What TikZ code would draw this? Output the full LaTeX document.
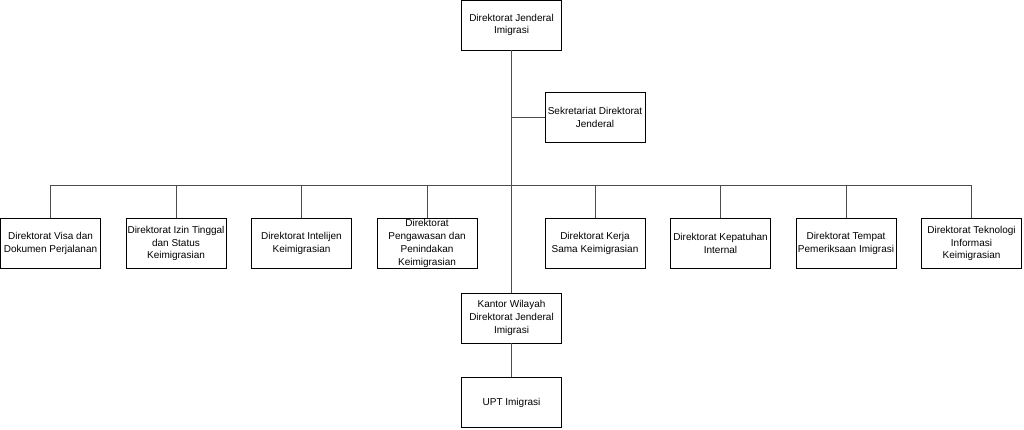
\documentclass[tikz,border=0pt]{standalone}
\usepackage{fontspec}
\setmainfont{Liberation Sans}
\begin{document}
\begin{tikzpicture}[x=1pt,y=-1pt,
  orgbox/.style={draw=black,line width=0.9pt,fill=white,minimum width=100pt,minimum height=50pt,
    inner sep=1pt,align=center,font=\fontsize{10}{12.8}\selectfont},
  link/.style={draw=black!70,line width=0.9pt}]
\useasboundingbox (0,0) rectangle (1024,429);
\node[orgbox] (top) at (511.5,25) {Direktorat Jenderal\\Imigrasi};
\node[orgbox] (sek) at (595,117.5) {Sekretariat Direktorat\\Jenderal};
\node[orgbox] (d1) at (50.5,243.5) {Direktorat Visa dan\\Dokumen Perjalanan};
\node[orgbox] (d2) at (176,243.5) {Direktorat Izin Tinggal\\dan Status\\Keimigrasian};
\node[orgbox] (d3) at (301.5,243.5) {Direktorat Intelijen\\Keimigrasian};
\node[orgbox] (d4) at (427,243.5) {Direktorat\\Pengawasan dan\\Penindakan\\Keimigrasian};
\node[orgbox] (d5) at (595,243.5) {Direktorat Kerja\\Sama Keimigrasian};
\node[orgbox] (d6) at (720.5,243.5) {Direktorat Kepatuhan\\Internal};
\node[orgbox] (d7) at (846,243.5) {Direktorat Tempat\\Pemeriksaan Imigrasi};
\node[orgbox] (d8) at (971.5,243.5) {Direktorat Teknologi\\Informasi\\Keimigrasian};
\node[orgbox] (kw) at (511.5,318) {Kantor Wilayah\\Direktorat Jenderal\\Imigrasi};
\node[orgbox] (upt) at (511.5,402.5) {UPT Imigrasi};
\coordinate (bus) at (511.5,185);
\draw[link] (top.south) -- (kw.north);
\draw[link] (top.south |- sek.west) -- (sek.west);
\draw[link] (d1.north |- bus) -- (d8.north |- bus);
\foreach \n in {d1,d2,d3,d4,d5,d6,d7,d8}{\draw[link] (\n.north) -- (\n.north |- bus);}
\draw[link] (kw.south) -- (upt.north);
\end{tikzpicture}
\end{document}
